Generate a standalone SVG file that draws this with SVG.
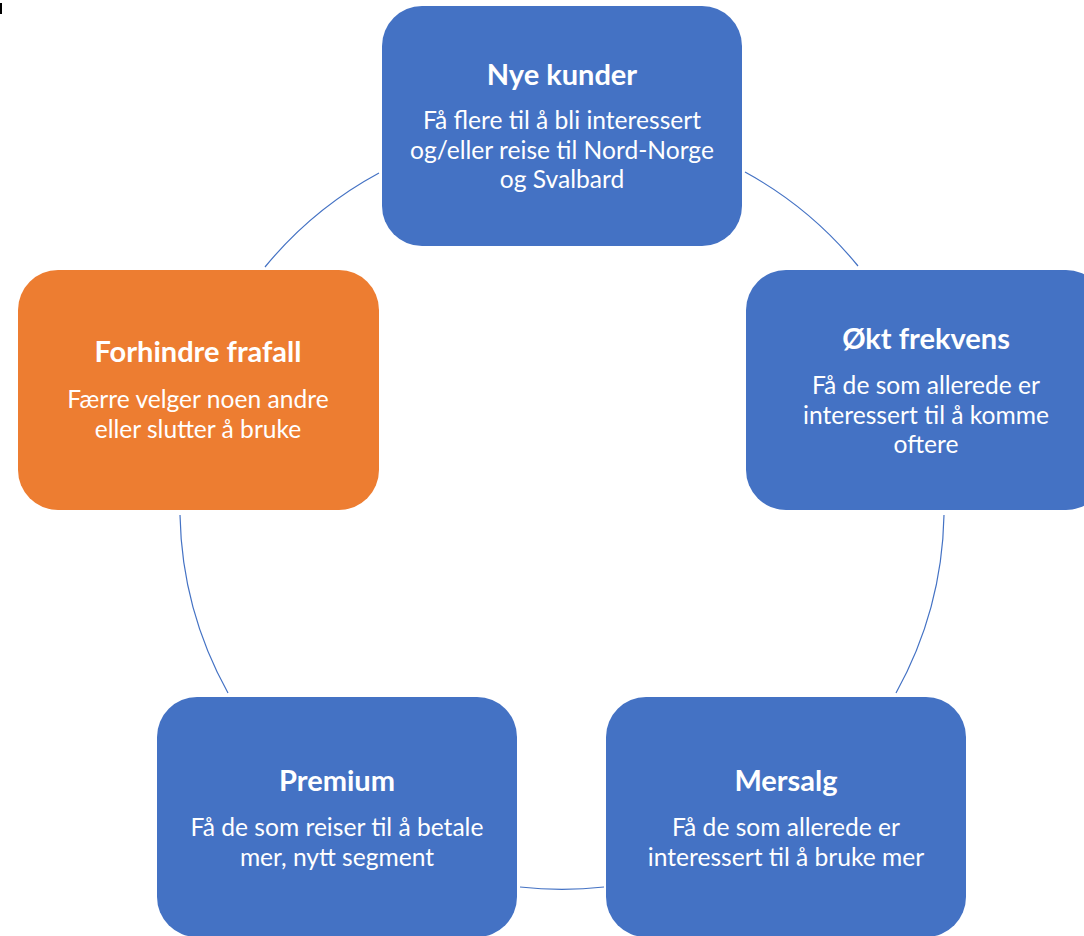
<svg xmlns="http://www.w3.org/2000/svg" width="1084" height="936" viewBox="0 0 1084 936">
<style>
.box-blue{fill:#4472C4}
.box-orange{fill:#ED7D31}
.title{font-family:Lato,"Liberation Sans",sans-serif;font-weight:bold;font-size:29px;fill:#FFFFFF;text-anchor:middle}
.body{font-family:Lato,"Liberation Sans",sans-serif;font-size:24.6px;fill:#FFFFFF;text-anchor:middle}
.conn{fill:none;stroke:#4472C4;stroke-width:1.2}
</style>
<rect width="1084" height="936" fill="#FFFFFF"/>
<rect x="0" y="3" width="2" height="11" fill="#000000"/>
<g id="connectors">
<path class="conn" d="M 745 172 A 382 382 0 0 1 858 266"/>
<path class="conn" d="M 944 515 A 382 382 0 0 1 896 693"/>
<path class="conn" d="M 604 887 A 382 382 0 0 1 520 887"/>
<path class="conn" d="M 228 693 A 382 382 0 0 1 180 515"/>
<path class="conn" d="M 265 267 A 382 382 0 0 1 379 173"/>
</g>
<g id="nye-kunder">
<rect class="box-blue" x="382" y="6" width="360" height="240" rx="40"/>
<text class="title" x="562" y="85">Nye kunder</text>
<text class="body" x="562" y="129">Få flere til å bli interessert</text>
<text class="body" x="562" y="158.5">og/eller reise til Nord-Norge</text>
<text class="body" x="562" y="188">og Svalbard</text>
</g>
<g id="okt-frekvens">
<rect class="box-blue" x="746" y="270" width="360" height="240" rx="40"/>
<text class="title" x="926" y="349">Økt frekvens</text>
<text class="body" x="926" y="394">Få de som allerede er</text>
<text class="body" x="926" y="423.5">interessert til å komme</text>
<text class="body" x="926" y="453">oftere</text>
</g>
<g id="mersalg">
<rect class="box-blue" x="606" y="697" width="360" height="240" rx="40"/>
<text class="title" x="786" y="791">Mersalg</text>
<text class="body" x="786" y="836">Få de som allerede er</text>
<text class="body" x="786" y="865.5">interessert til å bruke mer</text>
</g>
<g id="premium">
<rect class="box-blue" x="157" y="697" width="360" height="240" rx="40"/>
<text class="title" x="337" y="791">Premium</text>
<text class="body" x="337" y="836">Få de som reiser til å betale</text>
<text class="body" x="337" y="865.5">mer, nytt segment</text>
</g>
<g id="forhindre-frafall">
<rect class="box-orange" x="18" y="270" width="361" height="240" rx="40"/>
<text class="title" x="198" y="362">Forhindre frafall</text>
<text class="body" x="198" y="408">Færre velger noen andre</text>
<text class="body" x="198" y="437.5">eller slutter å bruke</text>
</g>
</svg>
